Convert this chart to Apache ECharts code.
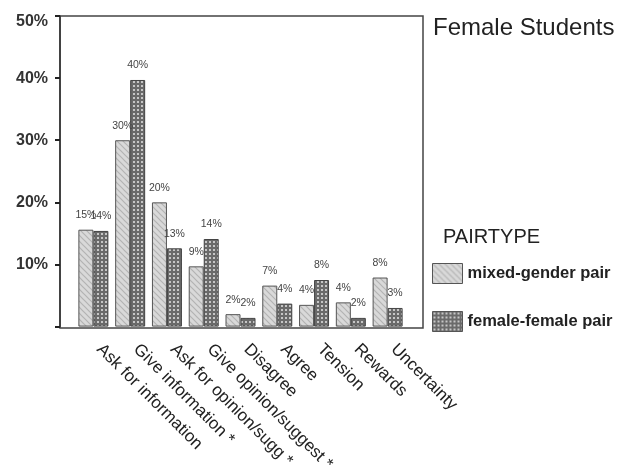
<!DOCTYPE html>
<html><head><meta charset="utf-8">
<script src="https://cdn.jsdelivr.net/npm/echarts@6/dist/echarts.min.js"></script>
<style>html,body{margin:0;padding:0;background:#fff}#c{width:627px;height:475px}</style>
</head><body><div id="c"></div>
<script>
const categories = ["Ask for information","Give information *","Ask for opinion/sugg *","Give opinion/suggest *","Disagree","Agree","Tension","Rewards","Uncertainty"];
const mixedValues = [15.6, 30.0, 20.0, 9.7, 2.0, 6.6, 3.5, 3.9, 7.9];
const femaleValues = [15.4, 39.7, 12.6, 14.1, 1.4, 3.7, 7.5, 1.4, 3.0];
const mixedLabels = ["15%","30%","20%","9%","2%","7%","4%","4%","8%"];
const femaleLabels = ["14%","40%","13%","14%","2%","4%","8%","2%","3%"];
const yTicks = [0, 10, 20, 30, 40, 50];
const seriesNames = ["mixed-gender pair", "female-female pair"];

function makeStripe(){
  const c = document.createElement('canvas'); c.width = 6; c.height = 6;
  const g = c.getContext('2d');
  g.fillStyle = '#d9d9d9'; g.fillRect(0,0,6,6);
  g.strokeStyle = '#b3b3b3'; g.lineWidth = 1.2;
  g.beginPath();
  g.moveTo(-1,-1); g.lineTo(7,7);
  g.moveTo(-4,2); g.lineTo(4,10);
  g.moveTo(2,-4); g.lineTo(10,4);
  g.stroke();
  return c;
}
function makeCheck(){
  const c = document.createElement('canvas'); c.width = 4; c.height = 4;
  const g = c.getContext('2d');
  g.fillStyle = '#6a6a6a'; g.fillRect(0,0,4,4);
  g.fillStyle = '#c6c6c6'; g.fillRect(1,1,2,2);
  return c;
}
const stripe = {image: makeStripe(), repeat: 'repeat'};
const check = {image: makeCheck(), repeat: 'repeat'};

const chart = echarts.init(document.getElementById('c'), null, {renderer: 'canvas'});
chart.setOption({
  animation: false,
  backgroundColor: '#fff',
  textStyle: {fontFamily: 'Liberation Sans, Arial, sans-serif'},
  title: [
    {text: 'Female Students', left: 428, top: 11, textStyle: {fontSize: 24, fontWeight: 'normal', color: '#222', fontFamily: 'Liberation Sans'}},
    {text: 'PAIRTYPE', left: 438, top: 222, textStyle: {fontSize: 20, fontWeight: 'normal', color: '#222', fontFamily: 'Liberation Sans'}}
  ],
  legend: {
    orient: 'vertical', left: 427, top: 258, itemWidth: 30, itemHeight: 20, itemGap: 27,
    icon: 'rect',
    itemStyle: {borderColor: '#555', borderWidth: 1},
    textStyle: {fontSize: 16.5, fontWeight: 'bold', color: '#222', fontFamily: 'Liberation Sans'},
    data: seriesNames
  },
  grid: {left: 75, right: 221, top: 16, bottom: 147, containLabel: false},
  xAxis: {
    type: 'category', data: categories,
    axisLine: {show: false},
    axisTick: {alignWithLabel: true, length: 5, lineStyle: {color: '#222', width: 1.5}},
    axisLabel: {rotate: -45, fontSize: 17, color: '#222', margin: 26, verticalAlign: 'bottom', interval: 0, fontFamily: 'Liberation Sans'}
  },
  yAxis: {
    type: 'value', min: yTicks[0], max: yTicks[yTicks.length-1], interval: 10, offset: 15,
    axisLine: {show: true, lineStyle: {color: '#333', width: 1.5}},
    axisTick: {show: true, length: 5, lineStyle: {color: '#222', width: 2}},
    splitLine: {show: false},
    axisLabel: {fontSize: 16, fontWeight: 'bold', color: '#333', margin: 12, fontFamily: 'Liberation Sans',
      formatter: v => v === 0 ? '' : (v === 50 ? '{top|' + v + '%}' : v + '%'),
      rich: {top: {fontSize: 16, fontWeight: 'bold', color: '#333', fontFamily: 'Liberation Sans', padding: [11, 0, 0, 0]}}}
  },
  graphic: [{
    type: 'rect', z: 0, silent: true,
    shape: {x: 60, y: 16, width: 363, height: 312},
    style: {fill: 'none', stroke: '#444', lineWidth: 1.5}
  }],
  series: [
    {name: seriesNames[0], type: 'bar', data: mixedValues, barWidth: 15, barGap: '0%',
     itemStyle: {color: stripe, borderColor: '#555', borderWidth: 1},
     label: {show: true, position: 'top', distance: 9, fontSize: 10.5, color: '#444', fontFamily: 'Liberation Sans',
       formatter: p => mixedLabels[p.dataIndex]}},
    {name: seriesNames[1], type: 'bar', data: femaleValues, barWidth: 15, barGap: '0%',
     itemStyle: {color: check, borderColor: '#444', borderWidth: 1},
     label: {show: true, position: 'top', distance: 9, fontSize: 10.5, color: '#444', fontFamily: 'Liberation Sans',
       formatter: p => femaleLabels[p.dataIndex]}}
  ]
});
</script></body></html>
